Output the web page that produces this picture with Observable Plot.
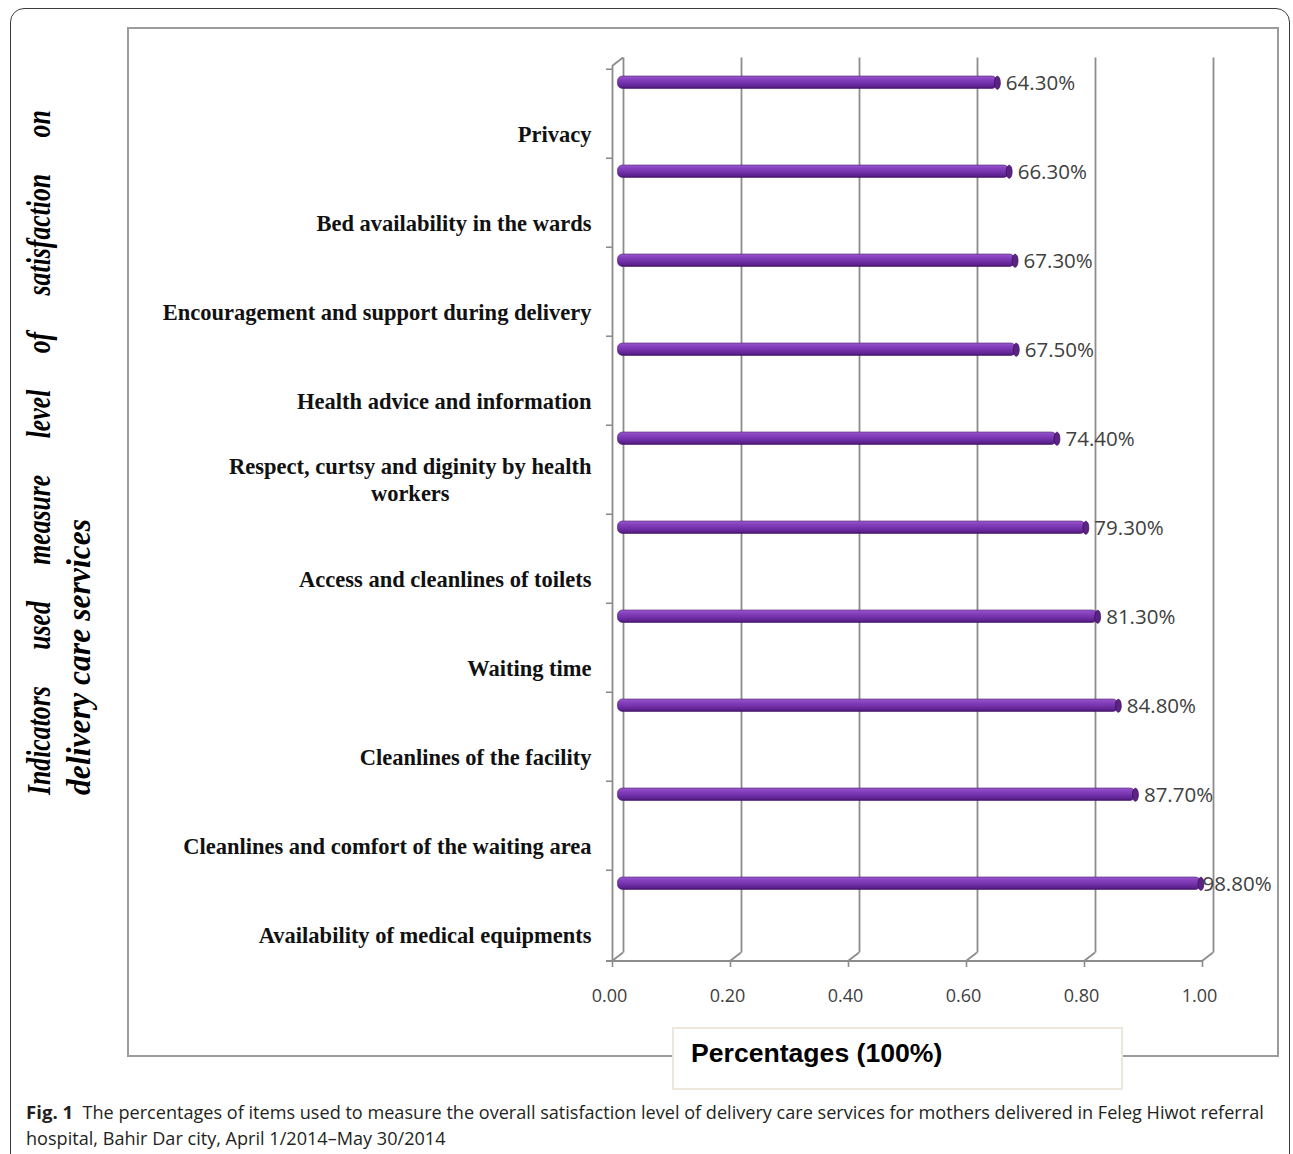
<!DOCTYPE html>
<html>
<head>
<meta charset="utf-8">
<script src="https://cdn.jsdelivr.net/npm/d3@7"></script>
<script src="https://cdn.jsdelivr.net/npm/@observablehq/plot@0.6"></script>
<style>
  body { margin: 0; background: #fff; }
  #page { position: relative; width: 1293px; height: 1154px; overflow: hidden; background: #fff; }
  #outer { position: absolute; left: 10px; top: 8px; width: 1280px; height: 1220px; border: 1.5px solid #3c3c3c; border-radius: 14px; box-sizing: border-box; }
  #frame { position: absolute; left: 127px; top: 27px; width: 1152px; height: 1030px; border: 2px solid #9c9c9c; box-sizing: border-box; }
  #chart { position: absolute; left: 0; top: 0; }
  .ytitle { position: absolute; transform-origin: 0 0; font-family: "Liberation Serif", serif; font-weight: bold; font-style: italic; font-size: 33px; line-height: 32px; white-space: nowrap; color: #000; }
  #yt1 { left: 23px; top: 795px; width: 878px; display: flex; justify-content: space-between; transform: rotate(-90deg) scaleX(0.78); }
  #yt2 { left: 63px; top: 795px; transform: rotate(-90deg) scaleX(0.96); }
  #xtitle { position: absolute; left: 672px; top: 1027px; width: 451px; height: 63px; border: 2px solid #ebe7da; background: #fff; box-sizing: border-box; font-family: "Liberation Sans", Arial, sans-serif; font-weight: bold; font-size: 26.6px; color: #000; }
  #xtitle span { position: absolute; left: 17px; top: 9px; }
  #caption { position: absolute; left: 26px; top: 1099px; font-family: "Open Sans", sans-serif; font-size: 18.1px; line-height: 26px; white-space: nowrap; color: #231f20; }
  #caption b { font-weight: 700; font-size: 18.6px; }
</style>
</head>
<body>
<div id="page">
  <div id="outer"></div>
  <div id="frame"></div>
  <div id="chart"></div>
  <div class="ytitle" id="yt1"><span>Indicators</span><span>used</span><span>measure</span><span>level</span><span>of</span><span>satisfaction</span><span>on</span></div>
  <div class="ytitle" id="yt2">delivery care services</div>
  <div id="xtitle"><span>Percentages (100%)</span></div>
  <div id="caption"><b>Fig. 1</b>&nbsp; The percentages of items used to measure the overall satisfaction level of delivery care services for mothers delivered in Feleg Hiwot referral<br>hospital, Bahir Dar city, April 1/2014–May 30/2014</div>
</div>
<script>
// ---- data ----
const categories = [
  "Privacy",
  "Bed availability in the wards",
  "Encouragement and support during delivery",
  "Health advice and information",
  "Respect, curtsy and diginity by health workers",
  "Access and cleanlines of toilets",
  "Waiting time",
  "Cleanlines of the facility",
  "Cleanlines and comfort of the waiting area",
  "Availability of medical equipments"
];
const values = [0.643, 0.663, 0.673, 0.675, 0.744, 0.793, 0.813, 0.848, 0.877, 0.988];
const xTicks = [0, 0.2, 0.4, 0.6, 0.8, 1.0];
const wrappedLabel = "Respect, curtsy and diginity by health workers";
const wrappedLines = ["Respect, curtsy and diginity by health", "workers"];

const data = categories.map((c, i) => ({category: c, value: values[i]}));

// ---- layout / style ----
const W = 1293, H = 1060;
const mTop = 66, mBottom = H - 961, mLeft = 612, mRight = W - 1202;
const band = (H - mTop - mBottom) / categories.length;
const DX = 11, DY = -8.5;          // 3D depth of back wall
const gridColor = "#8c8c8c";
const labelFont = "'Liberation Serif', 'Times New Roman', serif";
const numFont = "'Open Sans', sans-serif";
const labelSize = 22.5;

// measure first line of the wrapped label so the second line can be centred on it
const cv = document.createElement("canvas").getContext("2d");
cv.font = `bold ${labelSize}px 'Liberation Serif'`;
const wrapW = cv.measureText(wrappedLines[0]).width;

// ellipse symbol for the cylinder end cap
const ellipse = {
  draw(ctx, size) {
    const r = Math.sqrt(size / Math.PI), rx = r * 0.45, ry = r, k = 0.5523;
    ctx.moveTo(rx, 0);
    ctx.bezierCurveTo(rx, ry * k, rx * k, ry, 0, ry);
    ctx.bezierCurveTo(-rx * k, ry, -rx, ry * k, -rx, 0);
    ctx.bezierCurveTo(-rx, -ry * k, -rx * k, -ry, 0, -ry);
    ctx.bezierCurveTo(rx * k, -ry, rx, -ry * k, rx, 0);
    ctx.closePath();
  }
};

// floor / side edges of the 3D frame, drawn from the plot's x scale
function walls(index, scales, values, dimensions) {
  const x = scales.x;
  const yb = dimensions.height - dimensions.marginBottom;
  const yt = dimensions.marginTop;
  const g = d3.create("svg:g").attr("stroke", gridColor).attr("stroke-width", 1.8).attr("fill", "none");
  g.append("line").attr("x1", x(0) - 6).attr("x2", x(1)).attr("y1", yb).attr("y2", yb);
  for (const v of xTicks) {
    g.append("line").attr("x1", x(v)).attr("y1", yb).attr("x2", x(v) + DX).attr("y2", yb + DY);
  }
  g.append("line").attr("x1", x(0)).attr("y1", yt).attr("x2", x(0) + DX).attr("y2", yt + DY);
  return g.node();
}

const barTop = 7, barH = 13;
const barCenterDy = barTop + barH / 2 - band / 2;
const near = d => d.value > 0.95;   // labels that would run into the frame edge sit tight on the bar

const labelOpts = {x: "value", y: "category", text: d => d3.format(".2%")(d.value), textAnchor: "start",
  dy: barCenterDy + 0.5, fontFamily: numFont, fontSize: 20.5, fill: "#404040"};

const plot = Plot.plot({
  width: W, height: H,
  marginTop: mTop, marginBottom: mBottom, marginLeft: mLeft, marginRight: mRight,
  style: {background: "transparent", overflow: "visible"},
  x: {domain: [0, 1], label: null},
  y: {domain: categories, type: "band", padding: 0, label: null},
  marks: [
    // back-wall gridlines
    Plot.ruleX(xTicks, {stroke: gridColor, strokeWidth: 1.8, dx: DX, dy: DY}),
    // front left axis line
    Plot.ruleX([0], {stroke: gridColor, strokeWidth: 1.8}),
    walls,
    // left tick marks at band boundaries
    Plot.axisY({ticks: categories, tickSize: 6, tickFormat: () => "", label: null, dy: -band / 2, stroke: gridColor, strokeWidth: 1.6}),
    // category labels
    Plot.axisY({
      ticks: categories.filter(c => c !== wrappedLabel), tickSize: 0, tickPadding: 21, dy: 21, label: null,
      fontFamily: labelFont, fontSize: labelSize, fontWeight: "bold", fill: "#111"
    }),
    Plot.axisY({
      ticks: [wrappedLabel], tickSize: 0, tickPadding: 21, dy: 9, dx: -wrapW / 2, textAnchor: "middle", label: null,
      tickFormat: () => wrappedLines.join("\n"), lineHeight: 1.2,
      fontFamily: labelFont, fontSize: labelSize, fontWeight: "bold", fill: "#111"
    }),
    // x ticks and labels
    Plot.axisX({ticks: xTicks, tickSize: 6, tickFormat: () => "", label: null, stroke: gridColor, strokeWidth: 1.6}),
    Plot.axisX({ticks: xTicks, tickSize: 0, tickPadding: 28, dx: -3, tickFormat: d3.format(".2f"), label: null,
      fontFamily: numFont, fontSize: 18, fill: "#404040"}),
    // bars
    Plot.barX(data, {x: "value", y: "category", fill: "url(#barGrad)", stroke: "#4b1b6f", strokeWidth: 0.6,
      insetTop: barTop, insetBottom: band - barTop - barH, dx: 5.5, rx: 5}),
    Plot.dot(data, {x: "value", y: "category", symbol: ellipse, r: 6.5, fill: "#5a2384", stroke: "#3c1058", strokeWidth: 0.8,
      dx: 5.5, dy: barCenterDy}),
    Plot.text(data.filter(d => !near(d)), {...labelOpts, dx: 14}),
    Plot.text(data.filter(near), {...labelOpts, dx: 7})
  ]
});

// gradient for the cylinder look
const defs = d3.select(plot).insert("defs", ":first-child");
const grad = defs.append("linearGradient").attr("id", "barGrad")
  .attr("x1", 0).attr("y1", 0).attr("x2", 0).attr("y2", 1);
[[0, "#9a5ccc"], [0.2, "#8a45c2"], [0.55, "#7432ab"], [0.85, "#5e2290"], [1, "#3e1262"]]
  .forEach(([o, c]) => grad.append("stop").attr("offset", o).attr("stop-color", c));

document.getElementById("chart").appendChild(plot);
</script>
</body>
</html>
